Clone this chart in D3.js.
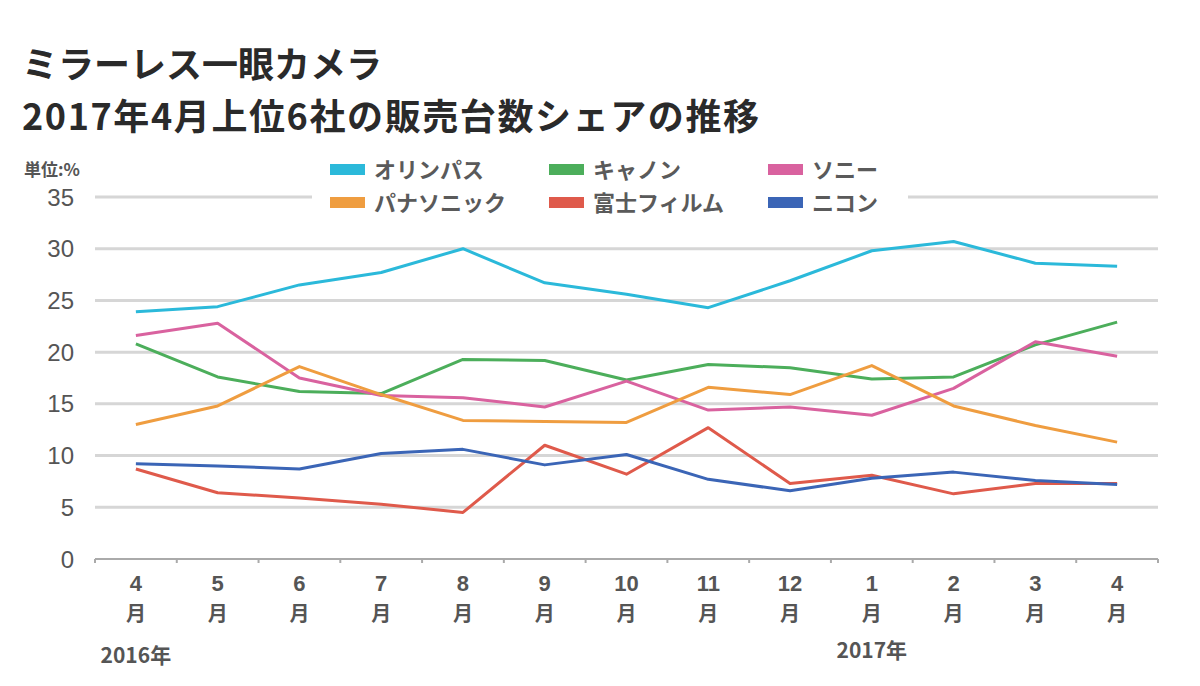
<!DOCTYPE html>
<html lang="ja">
<head>
  <meta charset="UTF-8">
  <title>ミラーレス一眼カメラ 販売台数シェアの推移</title>
  <script src="https://d3js.org/d3.v7.min.js"></script>
  <style>
    body {
      margin: 0;
      background: #fff;
      font-family: "Noto Sans CJK JP", "Noto Sans", sans-serif;
    }
    .title {
      font-size: 36px;
      font-weight: bold;
      fill: #2a2a2a;
    }
    .tick-label {
      font-family: "Liberation Sans", "Noto Sans CJK JP", sans-serif;
      font-size: 24px;
      fill: #555;
    }
    .month-num {
      font-family: "Liberation Sans", sans-serif;
      font-size: 22px;
      font-weight: bold;
      fill: #555;
    }
    .month-kanji {
      font-size: 20px;
      font-weight: bold;
      fill: #555;
    }
    .year-label {
      font-size: 21px;
      font-weight: bold;
      fill: #555;
    }
    .legend text {
      font-size: 22px;
      font-weight: bold;
      fill: #5a5a5a;
    }
  </style>
</head>
<body>
  <div id="chart"></div>
  <script>
    const months = ["4", "5", "6", "7", "8", "9", "10", "11", "12", "1", "2", "3", "4"];
    const yTicks = [0, 5, 10, 15, 20, 25, 30, 35];
    const companies = ["オリンパス", "キャノン", "ソニー", "パナソニック", "富士フィルム", "ニコン"];
    const colors = ["#2bb9da", "#4cae5b", "#d9629f", "#ef9d40", "#df5a4b", "#3b65b6"];

    // share (%) per month, Apr 2016 - Apr 2017
    const olympus   = [23.9, 24.4, 26.5, 27.7, 30.0, 26.7, 25.6, 24.3, 26.9, 29.8, 30.7, 28.6, 28.3];
    const canon     = [20.8, 17.6, 16.2, 16.0, 19.3, 19.2, 17.3, 18.8, 18.5, 17.4, 17.6, 20.7, 22.9];
    const sony      = [21.6, 22.8, 17.5, 15.8, 15.6, 14.7, 17.2, 14.4, 14.7, 13.9, 16.5, 21.0, 19.6];
    const panasonic = [13.0, 14.8, 18.6, 15.9, 13.4, 13.3, 13.2, 16.6, 15.9, 18.7, 14.8, 12.9, 11.3];
    const fujifilm  = [8.7, 6.4, 5.9, 5.3, 4.5, 11.0, 8.2, 12.7, 7.3, 8.1, 6.3, 7.3, 7.3];
    const nikon     = [9.2, 9.0, 8.7, 10.2, 10.6, 9.1, 10.1, 7.7, 6.6, 7.8, 8.4, 7.6, 7.2];
    const seriesValues = [olympus, canon, sony, panasonic, fujifilm, nikon];

    const width = 1200;
    const height = 686;
    const plot = { left: 95, right: 1158, top: 197, bottom: 559 };

    const svg = d3.select("#chart")
      .append("svg")
      .attr("width", width)
      .attr("height", height);

    // Title
    svg.append("text").attr("class", "title").attr("x", 22).attr("y", 78).text("ミラーレス一眼カメラ");
    svg.append("text").attr("class", "title").attr("x", 22).attr("y", 130)
      .attr("letter-spacing", "1.6px")
      .text("2017年4月上位6社の販売台数シェアの推移");

    const x = d3.scalePoint()
      .domain(d3.range(months.length))
      .range([plot.left, plot.right])
      .padding(0.5);

    const y = d3.scaleLinear()
      .domain([0, 35])
      .range([plot.bottom, plot.top]);

    // gridlines
    svg.append("g")
      .selectAll("line")
      .data(yTicks.filter(d => d > 0))
      .join("line")
      .attr("x1", plot.left)
      .attr("x2", plot.right)
      .attr("y1", d => y(d))
      .attr("y2", d => y(d))
      .attr("stroke", "#d6d6d6")
      .attr("stroke-width", 3);

    // y tick labels
    svg.append("g")
      .selectAll("text")
      .data(yTicks)
      .join("text")
      .attr("class", "tick-label")
      .attr("x", 74)
      .attr("y", d => y(d))
      .attr("dy", "0.36em")
      .attr("text-anchor", "end")
      .text(d => d);

    svg.append("text")
      .attr("x", 24)
      .attr("y", 176)
      .attr("font-size", 17)
      .attr("font-weight", "bold")
      .attr("fill", "#555")
      .text("単位:%");

    // x axis baseline with ticks at band edges
    const step = x.step();
    const axis = svg.append("g");
    axis.append("line")
      .attr("x1", plot.left).attr("x2", plot.right)
      .attr("y1", y(0)).attr("y2", y(0))
      .attr("stroke", "#aaa").attr("stroke-width", 2);
    axis.selectAll(".edge")
      .data(d3.range(months.length + 1))
      .join("line")
      .attr("class", "edge")
      .attr("x1", i => x(0) - step / 2 + i * step)
      .attr("x2", i => x(0) - step / 2 + i * step)
      .attr("y1", y(0))
      .attr("y2", y(0) + 4)
      .attr("stroke", "#aaa")
      .attr("stroke-width", 2);

    // month labels: number above 月
    const monthG = svg.append("g")
      .selectAll("g")
      .data(months)
      .join("g")
      .attr("transform", (d, i) => `translate(${x(i)},0)`);
    monthG.append("text")
      .attr("class", "month-num")
      .attr("y", 591)
      .attr("text-anchor", "middle")
      .text(d => d);
    monthG.append("text")
      .attr("class", "month-kanji")
      .attr("y", 621)
      .attr("text-anchor", "middle")
      .text("月");

    svg.append("text").attr("class", "year-label").attr("x", x(0)).attr("y", 663)
      .attr("text-anchor", "middle").text("2016年");
    svg.append("text").attr("class", "year-label").attr("x", x(9)).attr("y", 658)
      .attr("text-anchor", "middle").text("2017年");

    // lines
    const line = d3.line()
      .x((d, i) => x(i))
      .y(d => y(d));

    svg.append("g")
      .selectAll("path")
      .data(seriesValues)
      .join("path")
      .attr("d", line)
      .attr("fill", "none")
      .attr("stroke", (d, i) => colors[i])
      .attr("stroke-width", 3)
      .attr("stroke-linejoin", "round");

    // legend (covers part of the top gridline)
    const legend = svg.append("g").attr("class", "legend");
    legend.append("rect")
      .attr("x", 312).attr("y", 150)
      .attr("width", 596).attr("height", 66)
      .attr("fill", "#fff");

    const item = legend.selectAll(".item")
      .data(companies)
      .join("g")
      .attr("class", "item")
      .attr("transform", (d, i) => `translate(${330 + (i % 3) * 219},${170 + Math.floor(i / 3) * 33})`);
    item.append("rect")
      .attr("x", 0).attr("y", -6)
      .attr("width", 35).attr("height", 11)
      .attr("fill", (d, i) => colors[i]);
    item.append("text")
      .attr("x", 44)
      .attr("dy", "0.36em")
      .text(d => d);
  </script>
</body>
</html>
